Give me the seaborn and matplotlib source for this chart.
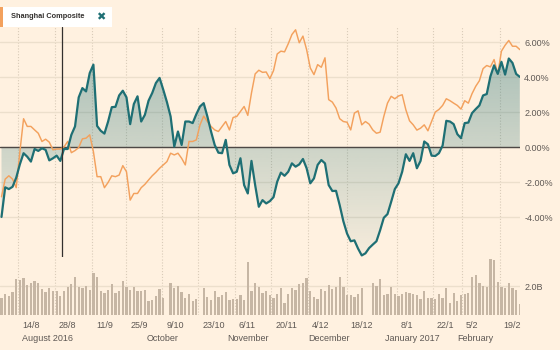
import numpy as np
import pandas as pd
import matplotlib
matplotlib.use("Agg")
import matplotlib.pyplot as plt
import matplotlib.transforms as mtransforms
from matplotlib import font_manager
from matplotlib.colors import to_rgb
from matplotlib.patches import Rectangle
import seaborn as sns

# Daily % change since the start of the window (one entry per trading slot)
stock_pct = [
    -3.98, -2.29, -2.39, -2.26, -1.74, -0.97, -0.34, -0.54, -0.82, -0.10,
    -0.21, -0.06, -0.15, -0.75, -0.63, -0.48, -0.78, -0.10, -0.10, 0.71,
    1.19, 2.85, 3.38, 3.19, 4.24, 4.72, 1.22, 0.94, 0.78, 1.47,
    2.29, 2.31, 2.96, 3.23, 2.85, 1.32, 2.47, 2.91, 1.47, 1.85,
    2.66, 3.10, 3.67, 3.96, 3.29, 2.58, 1.76, 0.04, 0.90, 0.13,
    1.47, 1.47, 1.38, 1.89, 2.33, 2.52, 1.76, 0.90, 0.13, -0.31,
    -0.34, 0.42, -1.01, -1.49, -1.40, -0.63, -2.16, -2.64, -0.78, -2.16,
    -3.40, -3.02, -3.21, -3.08, -2.85, -1.97, -1.45, -1.63, -1.40, -0.92,
    -1.11, -0.98, -0.67, -1.20, -2.06, -1.78, -1.01, -0.73, -0.92, -2.16,
    -2.50, -2.49, -3.31, -4.23, -4.93, -5.37, -5.32, -5.79, -6.18, -6.06,
    -5.76, -5.56, -5.37, -4.74, -4.03, -3.82, -3.12, -2.39, -2.06, -1.40,
    -0.40, -0.78, -0.34, -1.20, -0.78, 0.33, 0.17, -0.48, -0.50, -0.34,
    0.10, 1.51, 1.47, 1.32, 0.75, 0.52, 1.38, 1.41, 1.95, 2.18,
    2.39, 2.96, 3.04, 4.05, 4.68, 4.19, 4.88, 4.15, 5.07, 4.82,
    4.19, 4.02,
]

shanghai_pct = [
    -2.83, -1.82, -1.63, -1.82, -2.31, -0.25, 1.63, 1.19, 1.19, 0.99,
    0.80, 0.33, 0.46, 0.29, -0.15, -0.10, -0.10, 0.02, 0.33, -0.31,
    -0.19, -0.02, 0.48, 0.52, 0.71, -0.25, -1.68, -1.68, -2.31, -2.01,
    -1.63, -1.68, -1.59, -1.05, -1.40, -3.02, -2.64, -2.64, -2.31, -2.12,
    -1.87, -1.63, -1.43, -1.20, -1.01, -0.82, -0.34, -0.44, -0.34, -0.63,
    -1.01, 0.33, 0.33, 0.42, 1.28, 1.78, 1.47, 1.19, 0.99, 0.90,
    1.19, 1.47, 0.99, 1.70, 1.76, 2.05, 2.33, 1.82, 3.10, 4.19,
    4.40, 4.28, 4.30, 3.92, 4.38, 5.33, 5.49, 5.45, 5.91, 6.44,
    6.71, 5.97, 6.35, 5.58, 4.53, 4.15, 4.72, 4.57, 5.11, 2.72,
    2.58, 2.24, 1.63, 1.47, 1.43, 0.99, 1.95, 2.08, 1.28, 1.47,
    1.32, 0.99, 0.80, 0.86, 1.76, 2.52, 2.91, 2.77, 2.93, 3.00,
    2.14, 1.51, 1.28, 0.98, 1.09, 1.28, 0.94, 1.47, 2.01, 2.16,
    2.39, 2.77, 2.66, 2.52, 2.39, 2.18, 2.66, 2.52, 3.06, 3.48,
    3.80, 4.49, 4.67, 4.59, 5.01, 4.19, 5.49, 5.83, 6.10, 5.77,
    5.77, 5.58,
]

# Traded volume in billions; NaN marks a slot with no trading
volume_bn = [
    1.15, 1.45, 1.33, 1.61, 2.46, 2.41, 2.53, 2.07, 2.18, 2.37,
    2.18, 1.77, 1.59, 1.84, 1.63, 1.68, 1.29, 1.63, 1.95, 2.16,
    2.60, 1.95, 1.89, 2.02, 1.72, 2.92, 2.60, 1.68, 1.49, 1.72,
    2.11, 1.49, 1.68, 2.37, 1.95, 1.72, 1.91, 1.63, 1.68, 1.72,
    0.97, 1.03, 1.33, 1.77, 1.15, np.nan, 2.23, 1.89, 2.00, 1.59,
    1.15, 1.43, 0.99, 1.13, np.nan, 1.84, 1.22, 1.03, 1.63, 1.22,
    1.38, 1.59, 1.03, 1.13, 1.08, 1.40, 1.03, 3.68, 1.63, 2.18,
    1.95, 1.49, 1.68, 1.40, 1.20, 1.45, 1.86, 0.80, 1.45, 1.89,
    1.72, 2.11, 2.18, 2.57, 1.66, 1.26, 1.10, 1.77, 1.63, 2.07,
    1.79, 1.91, 2.60, 1.95, 1.36, 1.36, 1.22, 1.45, 1.84, np.nan,
    np.nan, 2.23, 1.98, 2.51, 1.36, 1.47, 1.91, 1.45, 1.33, 1.47,
    1.61, 1.49, 1.45, 1.38, 1.08, 1.68, 1.15, 1.15, 1.08, 1.45,
    1.20, 1.84, 0.80, 1.49, 0.97, 1.36, 1.45, 1.49, 2.60, 2.74,
    2.18, 2.00, 1.95, 3.84, 3.79, 2.25, 1.95, 1.84, 2.23, 1.89,
    1.72, 0.76,
]

# Weekly ticks (in trading-slot units) and their labels
week_ticks = [4.6, 14.5, 24.6, 34.0, 43.7, 53.5, 63.4, 73.4, 83.4, 93.9,
              107.5, 117.3, 125.3, 135.5]
week_labels = ["14/8", "28/8", "11/9", "25/9", "9/10", "23/10", "6/11",
               "20/11", "4/12", "18/12", "8/1", "22/1", "5/2", "19/2"]
month_ticks = [12.5, 43.9, 67.0, 89.0, 111.7, 128.9]
month_labels = ["August 2016", "October", "November", "December",
                "January 2017", "February"]
pct_ticks = [-4, -2, 0, 2, 4, 6]
volume_ticks = [2.0]
cursor_slot = 16.55
legend_name = "Shanghai Composite"

df = pd.DataFrame({
    "slot": np.arange(len(stock_pct)),
    "stock": stock_pct,
    "shanghai": shanghai_pct,
    "volume": volume_bn,
})

BG = "#fff1e0"
TEAL = "#1e6f74"
ORANGE = "#f3a15d"
GRID = "#ecdfcc"
VGRID = "#d9cbb8"
TEXT = "#5e5854"
BAR = "#c6b6a4"
DARK = "#33302e"

sns.set_style("white")
installed = {f.name for f in font_manager.fontManager.ttflist}
if "Liberation Sans Narrow" in installed:
    plt.rcParams["font.family"] = ["Liberation Sans Narrow", "DejaVu Sans"]
    AX_FS, LEG_FS = 7.3, 6.4
else:
    plt.rcParams["font.family"] = ["Liberation Sans", "DejaVu Sans"]
    AX_FS, LEG_FS = 6.5, 5.3

W, H = 560, 350
fig = plt.figure(figsize=(W / 100, H / 100), dpi=100, facecolor=BG)


def px_box(x0, y0, x1, y1):
    """Axes rectangle from pixel edges measured from the top-left corner."""
    return [x0 / W, 1 - y1 / H, (x1 - x0) / W, (y1 - y0) / H]


ax = fig.add_axes(px_box(0, 27, 520, 257))
axv = fig.add_axes(px_box(0, 257, 520, 315), sharex=ax)

XLIM = (-0.41, 141.05)
YLIM = (-6.27, 6.87)

for a in (ax, axv):
    a.set_facecolor("none")
    for s in a.spines.values():
        s.set_visible(False)
    a.set_axisbelow(True)

# --- price panel -----------------------------------------------------------
fill = ax.fill_between(df["slot"], df["stock"], 0, facecolor="none", edgecolor="none")
grad = np.zeros((256, 1, 4))
grad[..., :3] = to_rgb(TEAL)
grad[..., 3] = np.linspace(0.42, 0.04, 256)[:, None]
im = ax.imshow(grad, extent=[XLIM[0], XLIM[1], YLIM[0], YLIM[1]], aspect="auto",
               origin="upper", interpolation="bilinear", zorder=2)
im.set_clip_path(fill.get_paths()[0], transform=ax.transData)

sns.lineplot(data=df, x="slot", y="shanghai", color=ORANGE, linewidth=1.05,
             ax=ax, legend=False, zorder=4)
sns.lineplot(data=df, x="slot", y="stock", color=TEAL, linewidth=1.6,
             ax=ax, legend=False, zorder=5)
ax.axhline(0, color="#4d4845", lw=1.0, zorder=3)
ax.axvline(cursor_slot, color=DARK, lw=0.9, zorder=6)

ax.set_ylim(*YLIM)
ax.set_yticks(pct_ticks)
ax.set_yticklabels([f"{v:.2f}%" for v in pct_ticks])
ax.yaxis.tick_right()
ax.tick_params(axis="y", length=0, pad=3, labelsize=AX_FS, labelcolor=TEXT)
ax.tick_params(axis="x", length=0, labelbottom=False)
ax.grid(axis="y", color=GRID, lw=1.0)
ax.grid(axis="x", color=VGRID, lw=0.8, ls=(0, (1, 1.6)))
ax.set_xlabel("")
ax.set_ylabel("")

# --- volume panel ----------------------------------------------------------
sns.barplot(data=df.dropna(subset=["volume"]), x="slot", y="volume",
            native_scale=True, color=BAR, saturation=1, width=0.62,
            errorbar=None, linewidth=0, edgecolor="none", ax=axv, zorder=2)
axv.set_ylim(0, 4.0)
axv.set_yticks(volume_ticks)
axv.set_yticklabels([f"{v:.1f}B" for v in volume_ticks])
axv.yaxis.tick_right()
axv.tick_params(axis="y", length=0, pad=3, labelsize=AX_FS, labelcolor=TEXT)
axv.grid(axis="y", color=GRID, lw=1.0)
axv.grid(axis="x", color=VGRID, lw=0.8, ls=(0, (1, 1.6)))
axv.set_xlabel("")
axv.set_ylabel("")

axv.set_xticks(week_ticks)
axv.set_xticklabels(week_labels)
axv.set_xlim(*XLIM)
ax.set_xlim(*XLIM)
axv.tick_params(axis="x", length=3, width=0.8, color=VGRID, pad=1,
                labelsize=AX_FS, labelcolor=TEXT)
shift = mtransforms.ScaledTranslation(4 / 100, 0, fig.dpi_scale_trans)
for lab in axv.get_xticklabels():
    lab.set_horizontalalignment("left")
    lab.set_transform(lab.get_transform() + shift)

month_tf = mtransforms.blended_transform_factory(axv.transData, axv.transAxes)
for pos, txt in zip(month_ticks, month_labels):
    axv.text(pos, -0.40, txt, transform=month_tf, ha="center", va="center",
             fontsize=AX_FS, color=TEXT)

# --- legend chip -----------------------------------------------------------
fig.patches.append(Rectangle((0, 1 - 27 / H), 112 / W, 20 / H, transform=fig.transFigure,
                             facecolor="white", edgecolor="none", zorder=10))
fig.patches.append(Rectangle((0, 1 - 27 / H), 3 / W, 20 / H, transform=fig.transFigure,
                             facecolor=ORANGE, edgecolor="none", zorder=11))
fig.text(11 / W, 1 - 17 / H, legend_name, fontsize=LEG_FS, fontweight="bold",
         color=DARK, ha="left", va="center", zorder=12)
fig.text(101 / W, 1 - 17.5 / H, "\u2716", fontsize=8, color=TEAL, ha="center",
         va="center", family="DejaVu Sans", zorder=12)

fig.savefig("out.png", dpi=100, facecolor=BG)
